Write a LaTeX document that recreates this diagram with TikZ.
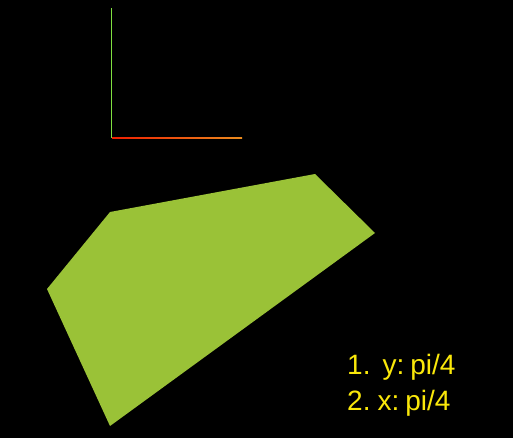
\documentclass[tikz,border=0pt]{standalone}
\usepackage{fontspec}
\setmainfont{Liberation Sans}
\definecolor{polygreen}{RGB}{154,194,55}
\definecolor{axisgreen}{RGB}{128,224,64}
\definecolor{axisred}{RGB}{240,30,0}
\definecolor{axisorange}{RGB}{235,140,30}
\definecolor{labelyellow}{RGB}{250,232,10}
\tikzset{
	label text/.style={anchor=base west, inner sep=0pt, text=labelyellow, font=\fontsize{28}{35}\selectfont\frenchspacing}
}

\begin{document}
\begin{tikzpicture}[x=1pt,y=-1pt]
	\fill[black] (0,0) rectangle (513,438);
	\useasboundingbox (0,0) rectangle (513,438);
	
	\coordinate(O) at (111.5,138);
	\coordinate(Ytop) at (111.5,8);
	\coordinate(Xend) at (242,138);
	
	\draw[axisgreen,line width=1.3pt]  (O)--(Ytop);
	\shade[left color=axisred,right color=axisorange] (112,137.3) rectangle (242,138.7);
	
	\coordinate(A) at (110,212);
	\coordinate(B) at (315,174);
	\coordinate(C) at (375,233);
	\coordinate(D) at (110,426);
	\coordinate(E) at (47,289);
	\fill[polygreen] (A)--(B)--(C)--(D)--(E)--cycle;
	
	\node[label text](item1) at (347,374){1.\hspace{12pt}y:\hspace{6pt}pi/4};
	\node[label text](item2) at (347,410){2.\hspace{7pt}x:\hspace{6pt}pi/4};
\end{tikzpicture}
\end{document}
